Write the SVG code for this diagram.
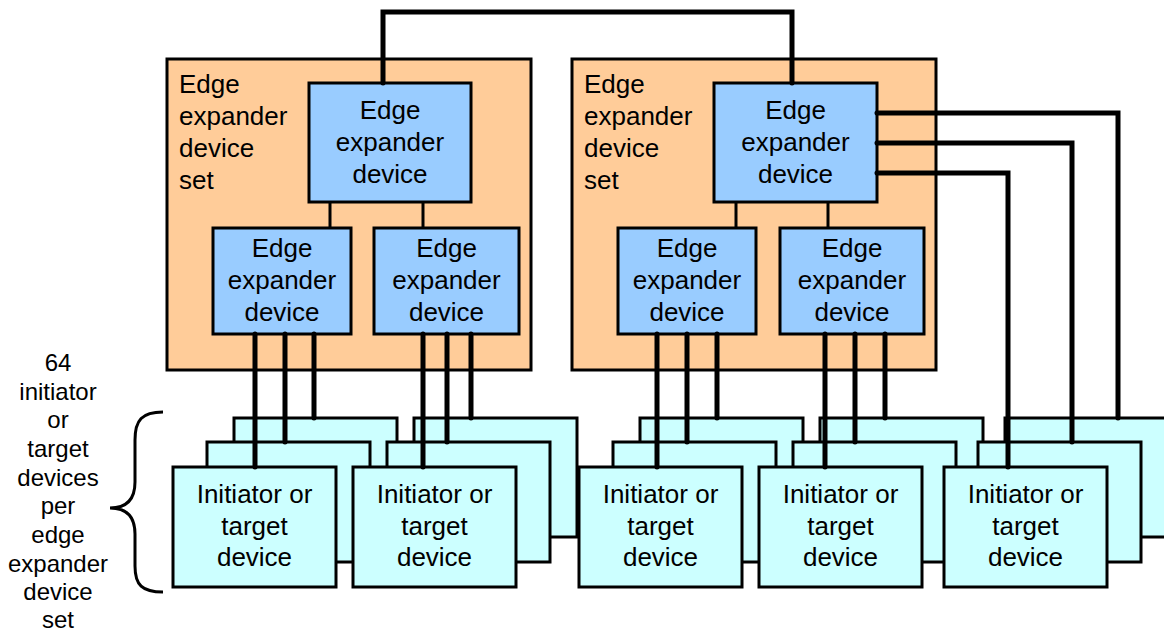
<svg xmlns="http://www.w3.org/2000/svg" width="1164" height="635" viewBox="0 0 1164 635">
<style>
.set{fill:#FFCC99;stroke:#000;stroke-width:3}
.eed{fill:#99CCFF;stroke:#000;stroke-width:3}
.dev{fill:#CCFFFF;stroke:#000;stroke-width:3}
.t{font-family:"Liberation Sans",Arial,sans-serif;font-size:26px;fill:#000}
.c{text-anchor:middle}
.lbl{font-family:"Liberation Sans",Arial,sans-serif;font-size:24px;fill:#000;text-anchor:middle}
.thick{fill:none;stroke:#000;stroke-width:5;stroke-linecap:round;stroke-linejoin:miter}
.thin{fill:none;stroke:#000;stroke-width:3}
</style>
<rect width="1164" height="635" fill="#fff"/>

<g id="set-left">
<rect class="set" x="167" y="59" width="364" height="311"/>
<text class="t" x="179" y="93">Edge</text>
<text class="t" x="179" y="125">expander</text>
<text class="t" x="179" y="157">device</text>
<text class="t" x="179" y="189">set</text>
</g>
<g id="set-right">
<rect class="set" x="572" y="59" width="364" height="311"/>
<text class="t" x="584" y="93">Edge</text>
<text class="t" x="584" y="125">expander</text>
<text class="t" x="584" y="157">device</text>
<text class="t" x="584" y="189">set</text>
</g>

<g id="eed-l-top"><rect class="eed" x="309" y="83" width="162" height="119"/>
<text class="t c" x="390" y="119">Edge</text><text class="t c" x="390" y="151">expander</text><text class="t c" x="390" y="183">device</text></g>
<g id="eed-l-a"><rect class="eed" x="213" y="228" width="138" height="106"/>
<text class="t c" x="282" y="257">Edge</text><text class="t c" x="282" y="289">expander</text><text class="t c" x="282" y="321">device</text></g>
<g id="eed-l-b"><rect class="eed" x="374" y="228" width="145" height="106"/>
<text class="t c" x="446.5" y="257">Edge</text><text class="t c" x="446.5" y="289">expander</text><text class="t c" x="446.5" y="321">device</text></g>

<g id="eed-r-top"><rect class="eed" x="714" y="83" width="163" height="119"/>
<text class="t c" x="795.5" y="119">Edge</text><text class="t c" x="795.5" y="151">expander</text><text class="t c" x="795.5" y="183">device</text></g>
<g id="eed-r-a"><rect class="eed" x="618" y="228" width="138" height="106"/>
<text class="t c" x="687" y="257">Edge</text><text class="t c" x="687" y="289">expander</text><text class="t c" x="687" y="321">device</text></g>
<g id="eed-r-b"><rect class="eed" x="780" y="228" width="144" height="106"/>
<text class="t c" x="852" y="257">Edge</text><text class="t c" x="852" y="289">expander</text><text class="t c" x="852" y="321">device</text></g>

<!-- back layer -->
<g id="dev-back">
<rect class="dev" x="234" y="418" width="163" height="119"/>
<rect class="dev" x="414" y="418" width="163" height="119"/>
<rect class="dev" x="640" y="418" width="163" height="119"/>
<rect class="dev" x="820" y="418" width="163" height="119"/>
<rect class="dev" x="1005" y="418" width="163" height="119"/>
</g>
<g id="dev-mid">
<rect class="dev" x="207" y="442" width="163" height="120"/>
<rect class="dev" x="387" y="442" width="163" height="120"/>
<rect class="dev" x="613" y="442" width="163" height="120"/>
<rect class="dev" x="793" y="442" width="163" height="120"/>
<rect class="dev" x="978" y="442" width="163" height="120"/>
</g>
<g id="dev-1"><rect class="dev" x="173" y="467" width="163" height="120"/>
<text class="t c" x="254.5" y="503">Initiator or</text><text class="t c" x="254.5" y="535">target</text><text class="t c" x="254.5" y="566">device</text></g>
<g id="dev-2"><rect class="dev" x="353" y="467" width="163" height="120"/>
<text class="t c" x="434.5" y="503">Initiator or</text><text class="t c" x="434.5" y="535">target</text><text class="t c" x="434.5" y="566">device</text></g>
<g id="dev-3"><rect class="dev" x="579" y="467" width="163" height="120"/>
<text class="t c" x="660.5" y="503">Initiator or</text><text class="t c" x="660.5" y="535">target</text><text class="t c" x="660.5" y="566">device</text></g>
<g id="dev-4"><rect class="dev" x="759" y="467" width="163" height="120"/>
<text class="t c" x="840.5" y="503">Initiator or</text><text class="t c" x="840.5" y="535">target</text><text class="t c" x="840.5" y="566">device</text></g>
<g id="dev-5"><rect class="dev" x="944" y="467" width="163" height="120"/>
<text class="t c" x="1025.5" y="503">Initiator or</text><text class="t c" x="1025.5" y="535">target</text><text class="t c" x="1025.5" y="566">device</text></g>

<g id="connectors">
<path class="thin" d="M330,202V228M423,202V228M736,202V228M828,202V228"/>
<path class="thick" d="M383,83V12H792V83"/>
<path class="thick" d="M877,113H1118V418M877,143H1072V442M877,173H1008V467"/>
<path class="thick" d="M255,334V467M285,334V442M314,334V418"/>
<path class="thick" d="M423,334V467M447,334V442M471,334V418"/>
<path class="thick" d="M657,334V467M687,334V442M717,334V418"/>
<path class="thick" d="M825,334V467M855,334V442M885,334V418"/>
</g>

<g id="brace-label">
<path d="M163,412C142,412 135,420 135,440V482C135,500 126,508 110,508C126,508 135,516 135,534V566C135,585 142,592 163,592" fill="none" stroke="#000" stroke-width="3"/>
<text class="lbl" x="58" y="371">64</text>
<text class="lbl" x="58" y="400">initiator</text>
<text class="lbl" x="58" y="428">or</text>
<text class="lbl" x="58" y="457">target</text>
<text class="lbl" x="58" y="486">devices</text>
<text class="lbl" x="58" y="514">per</text>
<text class="lbl" x="58" y="543">edge</text>
<text class="lbl" x="58" y="572">expander</text>
<text class="lbl" x="58" y="600">device</text>
<text class="lbl" x="58" y="628">set</text>
</g>
</svg>
